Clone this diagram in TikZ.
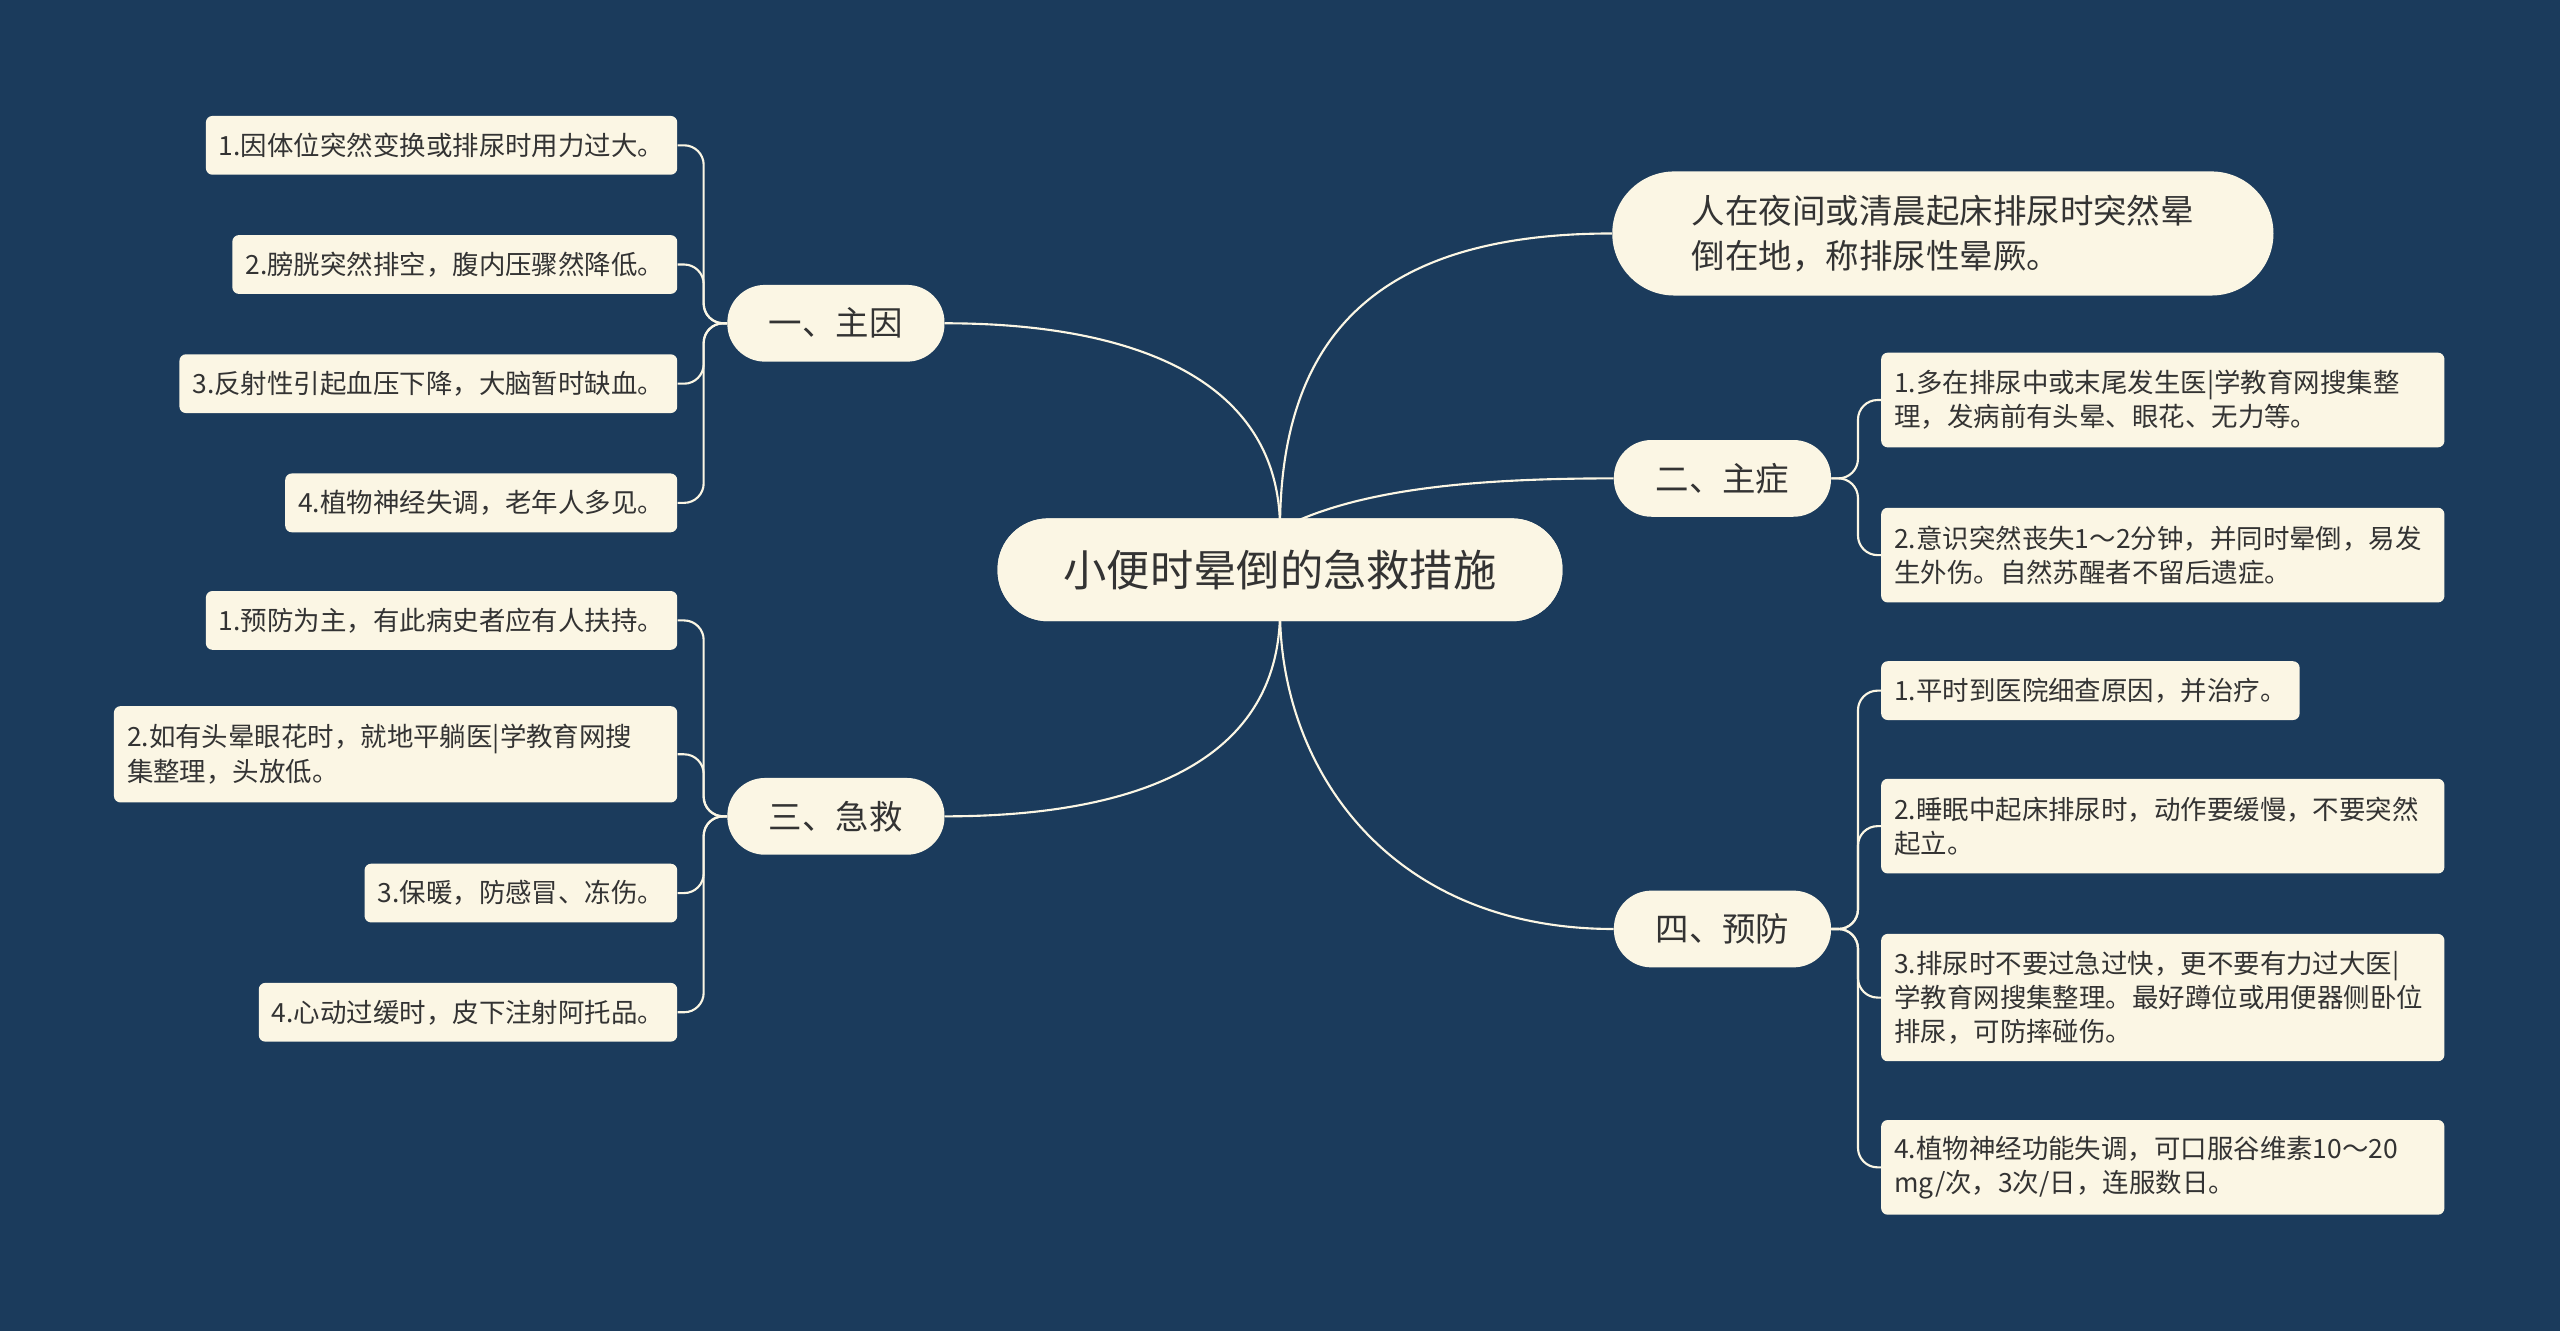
\documentclass[tikz,border=0pt]{standalone}
\usepackage{fontspec}
\setmainfont{Noto Sans CJK SC}
\begin{document}
\begin{tikzpicture}[x=1pt,y=-1pt,
 box/.style={fill=cream,text=txt,inner sep=0pt},
 leaf/.style={box,rounded corners=4pt,font=\fontsize{16.2}{21}\selectfont,inner xsep=8pt,minimum height=36pt,align=left},
 branch/.style={box,rounded corners=23pt,font=\fontsize{20.5}{24}\selectfont,minimum width=133pt,minimum height=47pt},
 conn/.style={draw=cream,line width=1.3pt},
]
\definecolor{bg}{HTML}{1B3B5C}
\definecolor{cream}{HTML}{FBF6E4}
\definecolor{txt}{HTML}{333333}
\fill[bg] (0,0) rectangle (1568,815);
\useasboundingbox (0,0) rectangle (1568,815);

\node[box,rounded corners=31pt,font=\fontsize{26.5}{30}\selectfont,minimum width=346pt,minimum height=63pt] (c) at (784,349) {小便时晕倒的急救措施};
\node[branch] (b1) at (512,198) {一、主因};
\node[branch] (b3) at (512,500) {三、急救};
\node[box,rounded corners=38pt,font=\fontsize{20.5}{28}\selectfont,minimum width=405pt,minimum height=76pt,align=left] (d) at (1190,143) {人在夜间或清晨起床排尿时突然晕\\倒在地，称排尿性晕厥。};
\node[branch] (b2) at (1055,293) {二、主症};
\node[branch] (b4) at (1055,569) {四、预防};

\node[leaf,anchor=east] (l1) at (415,89) {1.因体位突然变换或排尿时用力过大。};
\node[leaf,anchor=east] (l2) at (415,162) {2.膀胱突然排空，腹内压骤然降低。};
\node[leaf,anchor=east] (l3) at (415,235) {3.反射性引起血压下降，大脑暂时缺血。};
\node[leaf,anchor=east] (l4) at (415,308) {4.植物神经失调，老年人多见。};

\node[leaf,anchor=east] (m1) at (415,380) {1.预防为主，有此病史者应有人扶持。};
\node[leaf,anchor=east,text width=329pt,minimum height=59pt] (m2) at (415,462) {2.如有头晕眼花时，就地平躺医|学教育网搜\\集整理，头放低。};
\node[leaf,anchor=east] (m3) at (415,547) {3.保暖，防感冒、冻伤。};
\node[leaf,anchor=east] (m4) at (415,620) {4.心动过缓时，皮下注射阿托品。};

\node[leaf,anchor=west,text width=329pt,minimum height=58pt] (r1) at (1152,245) {1.多在排尿中或末尾发生医|学教育网搜集整\\理，发病前有头晕、眼花、无力等。};
\node[leaf,anchor=west,text width=329pt,minimum height=58pt] (r2) at (1152,340) {2.意识突然丧失1～2分钟，并同时晕倒，易发\\生外伤。自然苏醒者不留后遗症。};
\node[leaf,anchor=west] (s1) at (1152,423) {1.平时到医院细查原因，并治疗。};
\node[leaf,anchor=west,text width=329pt,minimum height=58pt] (s2) at (1152,506) {2.睡眠中起床排尿时，动作要缓慢，不要突然\\起立。};
\node[leaf,anchor=west,text width=329pt,minimum height=78pt] (s3) at (1152,611) {3.排尿时不要过急过快，更不要有力过大医|\\学教育网搜集整理。最好蹲位或用便器侧卧位\\排尿，可防摔碰伤。};
\node[leaf,anchor=west,text width=329pt,minimum height=58pt] (s4) at (1152,715) {4.植物神经功能失调，可口服谷维素10～20\\mg/次，3次/日，连服数日。};

\draw[conn] (c.center) ++(0,-25) .. controls (784,230) and (690,198) .. (b1.east);
\draw[conn] (c.center) ++(0,25) .. controls (784,470) and (690,500) .. (b3.east);
\draw[conn] (c.center) ++(0,-25) .. controls (784,200) and (850,143) .. (d.west);
\draw[conn] (c.center) ++(0,-25) .. controls (830,300) and (900,293) .. (b2.west);
\draw[conn] (c.center) ++(0,25) .. controls (784,470) and (850,569) .. (b4.west);
\foreach \l in {l1,l2,l3,l4} \draw[conn,rounded corners=12pt] (b1.west) -- (431,198) |- (\l.east);
\foreach \l in {m1,m2,m3,m4} \draw[conn,rounded corners=12pt] (b3.west) -- (431,500) |- (\l.east);
\foreach \l in {r1,r2} \draw[conn,rounded corners=12pt] (b2.east) -- (1138,293) |- (\l.west);
\foreach \l in {s1,s2,s3,s4} \draw[conn,rounded corners=12pt] (b4.east) -- (1138,569) |- (\l.west);
\node[box,rounded corners=31pt,font=\fontsize{26.5}{30}\selectfont,minimum width=346pt,minimum height=63pt] at (784,349) {小便时晕倒的急救措施};
\end{tikzpicture}
\end{document}
